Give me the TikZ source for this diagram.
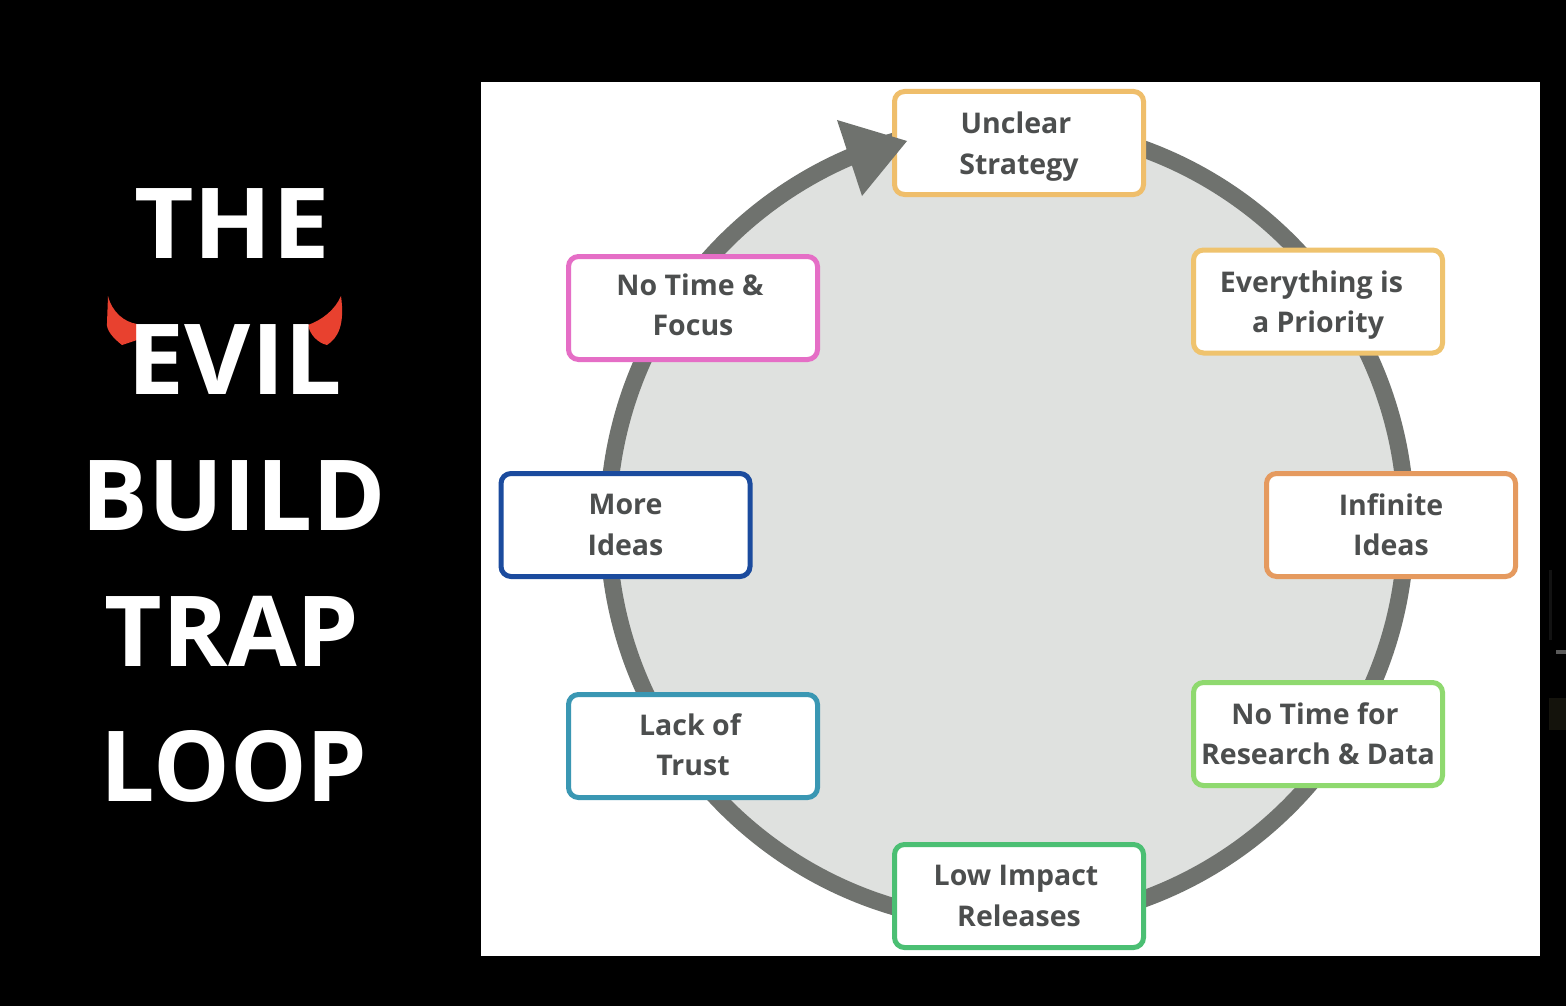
\documentclass[tikz,border=0pt]{standalone}
\usepackage{fontspec}
\setmainfont{Open Sans}
\definecolor{ringc}{HTML}{6F726E}
\definecolor{discc}{HTML}{DFE1DF}
\definecolor{inkc}{HTML}{4C4E4E}
\definecolor{hornc}{HTML}{E8412F}
\definecolor{cA}{HTML}{EFBE6B}
\definecolor{cB}{HTML}{EFC36E}
\definecolor{cC}{HTML}{E59A5F}
\definecolor{cD}{HTML}{8FD96F}
\definecolor{cE}{HTML}{4BBF73}
\definecolor{cF}{HTML}{3A97B3}
\definecolor{cG}{HTML}{1B4B9E}
\definecolor{cH}{HTML}{E56EC6}
\newcommand{\dnpad}[1]{\rule{0pt}{#1}}
\newcommand{\uppad}[1]{\rule[-#1]{0pt}{#1}}
\tikzset{x=1pt,y=-1pt,
 titletext/.style={anchor=base,text=white,inner sep=0,transform shape,xscale=#1,font=\fontsize{98}{98}\selectfont\bfseries},
 stepbox/.style={draw=#1,fill=white,line width=5pt,rounded corners=10pt,minimum width=249pt,minimum height=103pt,inner sep=0,align=center,text=inkc,font=\fontsize{28.5}{40.5}\selectfont\bfseries}}
\begin{document}
\begin{tikzpicture}
\useasboundingbox (0,0) rectangle (1566,1006);
\fill[black] (0,0) rectangle (1566,1006);
\fill[white] (481,82) rectangle (1539.5,955.5);
% faint artefacts at the right edge
\fill[white,opacity=.07] (1549,570) rectangle (1552,640);
\fill[white,opacity=.35] (1556,650) rectangle (1566,654);
\fill[yellow!40!white,opacity=.08] (1549,698) rectangle (1566,730);
% ring
\node[circle,draw=ringc,fill=discc,line width=17pt,minimum size=798pt,inner sep=0] (ring) at (1007,524) {};
% steps
\node[stepbox=cA] (s1) at (1019,143) {\dnpad{29pt}Unclear\kern6pt\\Strategy};
\node[stepbox=cB] (s2) at (1318,301.5) {\dnpad{29pt}Everything is\kern13pt\\a Priority};
\node[stepbox=cC] (s3) at (1391,525) {Infinite\\Ideas\uppad{1pt}};
\node[stepbox=cD] (s4) at (1318,734) {No Time for\kern6pt\\Research \& Data\uppad{1pt}};
\node[stepbox=cE] (s5) at (1019,896) {Low Impact\kern6pt\\Releases};
\node[stepbox=cF] (s6) at (693,746) {Lack of\kern6pt\\Trust\uppad{3pt}};
\node[stepbox=cG] (s7) at (625.5,525) {More\\Ideas};
\node[stepbox=cH] (s8) at (693,308) {No Time \&\kern6pt\\Focus\uppad{7pt}};
% arrowhead on the ring, touching the first step
\coordinate (tip) at (907,141);
\fill[ringc] (837,120) -- (tip) -- (862,196) -- cycle;
% horns
\fill[hornc] (108,296) .. controls (112,312) and (124,322) .. (137,324) -- (137,340) -- (122,345) .. controls (113,338) and (106,330) .. (107,323) -- cycle;
\fill[hornc] (341,296) .. controls (335,310) and (322,320) .. (308,325) .. controls (310,335) and (318,343) .. (327,345) .. controls (338,338) and (345,325) .. (341,296) -- cycle;
% title
\node[titletext=1.05] (t1) at (232,258) {THE};
\node[titletext=1.04] (t2) at (235,394) {EVIL};
\node[titletext=1.014] (t3) at (233.5,530) {BUILD};
\node[titletext=1.016] (t4) at (232,666) {TRAP};
\node[titletext=0.985] (t5) at (234,801) {LOOP};
\end{tikzpicture}
\end{document}
